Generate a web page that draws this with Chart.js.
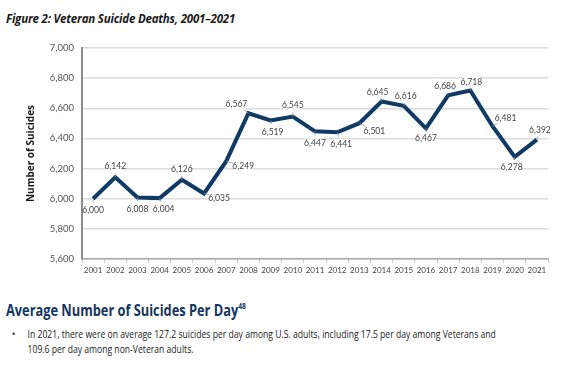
<!DOCTYPE html>
<html>
<head>
<meta charset="utf-8">
<script src="https://cdn.jsdelivr.net/npm/chart.js@4"></script>
<style>
  body { margin: 0; background: #fff; width: 582px; height: 372px; overflow: hidden; position: relative;
         font-family: "Open Sans", "Noto Sans", sans-serif; }
  #title { position: absolute; left: 6px; top: 11px; font-size: 11.5px; font-weight: bold; font-style: italic; color: #1a1a1a; letter-spacing: -0.2px; }
  #wrap { position: absolute; left: 0; top: 0; width: 582px; height: 285px; }
  #heading { position: absolute; left: 6px; top: 299px; font-size: 16px; font-weight: bold;
             color: #12365f; transform: scaleX(0.8); transform-origin: left top; white-space: nowrap; }
  #heading sup { font-size: 8.5px; vertical-align: 7px; }
  #bullet { position: absolute; left: 12px; top: 327px; width: 640px; font-size: 10.5px; line-height: 15px; color: #222;
            transform: scaleX(0.82); transform-origin: left top; white-space: nowrap; }
  #bullet span { position: absolute; left: 0; }
  #bullet p { margin: 0 0 0 19px; }
</style>
</head>
<body>
<div id="title">Figure 2: Veteran Suicide Deaths, 2001–2021</div>
<div id="wrap"><canvas id="chart"></canvas></div>
<div id="heading">Average Number of Suicides Per Day<sup>48</sup></div>
<div id="bullet"><span>•</span><p>In 2021, there were on average 127.2 suicides per day among U.S. adults, including 17.5 per day among Veterans and<br>109.6 per day among non-Veteran adults.</p></div>
<script>
var years = ['2001','2002','2003','2004','2005','2006','2007','2008','2009','2010','2011',
             '2012','2013','2014','2015','2016','2017','2018','2019','2020','2021'];
var deaths = [6000, 6142, 6008, 6004, 6126, 6035, 6249, 6567, 6519, 6545, 6447,
              6441, 6501, 6645, 6616, 6467, 6686, 6718, 6481, 6278, 6392];
var yTicks = [5600, 5800, 6000, 6200, 6400, 6600, 6800, 7000];

var narrow = 'Lato, "Open Sans", sans-serif';

// where each value label sits relative to its point (dx, dy in px)
var labelOffsets = [
  [0, 11], [0, -11], [0, 11], [4, 11], [0, -11], [15, 4], [17, 5], [-12, -9],
  [2, 11], [0, -12], [0, 12], [4, 12], [15, 8], [-4, -10], [2, -10], [0, 10],
  [-3, -9], [1, -9], [13, -8], [-3, 10], [3, -10]
];

var valueLabels = {
  id: 'valueLabels',
  afterDatasetsDraw: function(chart) {
    var c = chart.ctx;
    var meta = chart.getDatasetMeta(0);
    c.save();
    c.font = '9.5px ' + narrow;
    c.textAlign = 'center';
    c.textBaseline = 'middle';
    meta.data.forEach(function(pt, i) {
      var off = labelOffsets[i];
      var lx = pt.x + off[0], ly = pt.y + off[1];
      // short leader line
      c.strokeStyle = '#9a9a9a';
      c.lineWidth = 0.8;
      c.beginPath();
      c.moveTo(pt.x, pt.y);
      var len = Math.sqrt(off[0] * off[0] + off[1] * off[1]);
      var k = Math.max(0, (len - 5) / len);
      c.lineTo(pt.x + off[0] * k * 0.6, pt.y + off[1] * k * 0.6);
      c.stroke();
      c.fillStyle = '#fff';
      c.fillRect(lx - 9, ly - 5, 18, 10);
      c.fillStyle = '#444';
      c.save();
      c.translate(lx, ly);
      c.scale(0.9, 1);
      c.fillText(deaths[i].toLocaleString('en-US'), 0, 0);
      c.restore();
    });
    c.restore();
  }
};

var ctx = document.getElementById('chart').getContext('2d');
var chart = new Chart(ctx, {
  type: 'line',
  data: {
    labels: years,
    datasets: [{
      data: deaths,
      borderColor: '#0f3a66',
      borderWidth: 4,
      pointRadius: 0,
      tension: 0,
      fill: false
    }]
  },
  options: {
    responsive: true,
    maintainAspectRatio: false,
    animation: false,
    layout: { padding: { top: 48, right: 34, left: 0, bottom: 0 } },
    plugins: { legend: { display: false }, tooltip: { enabled: false } },
    scales: {
      x: {
        offset: true,
        grid: { display: true, drawOnChartArea: false, drawTicks: true, tickLength: 4, color: '#c8c8c8', offset: true },
        border: { color: '#a8a8a8', width: 1.5 },
        ticks: { color: '#444', font: { size: 8, family: narrow }, padding: 3, maxRotation: 0, autoSkip: false },
        afterFit: function(s) { s.height = 26; }
      },
      y: {
        min: 5600,
        max: 7000,
        afterBuildTicks: function(s) { s.ticks = yTicks.map(function(v) { return { value: v }; }); },
        grid: { color: '#dcdcdc', lineWidth: 1.5, drawTicks: false },
        border: { color: '#8c8c8c', width: 2 },
        ticks: { color: '#555', font: { size: 9.5, family: narrow }, padding: 8,
                 callback: function(v) { return v.toLocaleString('en-US'); } },
        title: { display: true, text: 'Number of Suicides', color: '#1a1a1a',
                 font: { size: 10, weight: 'bold', family: '"Open Sans", sans-serif' }, padding: { top: 25, bottom: 0 } },
        afterFit: function(s) { s.width = 82; }
      }
    }
  },
  plugins: [valueLabels]
});
</script>
</body>
</html>
